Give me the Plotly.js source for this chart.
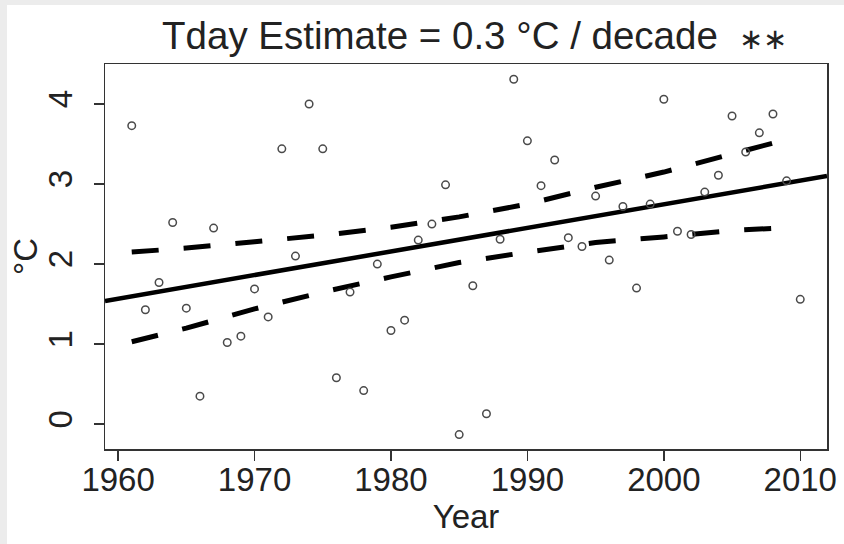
<!DOCTYPE html>
<html>
<head>
<meta charset="utf-8">
<script src="https://cdn.plot.ly/plotly-3.0.1.min.js"></script>
<style>
  html, body { margin: 0; padding: 0; background: #ececec; width: 844px; height: 544px; overflow: hidden; }
  #plot { position: absolute; left: 7px; top: 5px; width: 837px; height: 539px; background: #fff; }
</style>
</head>
<body>
<div id="plot"></div>
<script>
// Observed annual values (°C)
const years = [1961,1962,1963,1964,1965,1966,1967,1968,1969,1970,
               1971,1972,1973,1974,1975,1976,1977,1978,1979,1980,
               1981,1982,1983,1984,1985,1986,1987,1988,1989,1990,
               1991,1992,1993,1994,1995,1996,1997,1998,1999,2000,
               2001,2002,2003,2004,2005,2006,2007,2008,2009,2010];
const tday  = [3.73,1.43,1.77,2.52,1.45,0.35,2.45,1.02,1.10,1.69,
               1.34,3.44,2.10,4.00,3.44,0.58,1.65,0.42,2.00,1.17,
               1.30,2.30,2.50,2.99,-0.13,1.73,0.13,2.31,4.31,3.54,
               2.98,3.30,2.33,2.22,2.85,2.05,2.72,1.70,2.75,4.06,
               2.41,2.37,2.90,3.11,3.85,3.40,3.64,3.875,3.04,1.56];

// Trend line (ends at plot edges)
const trendX = [1959.04, 2011.96];
const trendY = [1.54, 3.10];

// Dashed band lines
const bandX = [1961, 1965, 1970, 1975, 1980, 1985, 1990, 1995, 2000, 2005, 2008.4];
const bandUpper = [2.15, 2.20, 2.28, 2.36, 2.46, 2.59, 2.75, 2.96, 3.15, 3.37, 3.53];
const bandLower = [1.03, 1.20, 1.44, 1.65, 1.84, 2.02, 2.15, 2.27, 2.34, 2.42, 2.45];

// Axis ticks
const xTicks = [1960, 1970, 1980, 1990, 2000, 2010];
const yTicks = [0, 1, 2, 3, 4];

const FONT = 'Liberation Sans, Arial, Helvetica, sans-serif';
const AX = '#333';

const traces = [
  { x: trendX, y: trendY, mode: 'lines', line: { color: '#000', width: 4.5 }, hoverinfo: 'skip' },
  { x: bandX, y: bandUpper, mode: 'lines', line: { color: '#000', width: 5, dash: '27px,25px' }, hoverinfo: 'skip' },
  { x: bandX, y: bandLower, mode: 'lines', line: { color: '#000', width: 5, dash: '27px,25px' }, hoverinfo: 'skip' },
  { x: years, y: tday, mode: 'markers',
    marker: { symbol: 'circle-open', size: 7.5, color: '#4a4a4a', line: { width: 1.5, color: '#4a4a4a' } } }
];

const layout = {
  width: 837, height: 539,
  margin: { l: 98, r: 17, t: 59, b: 95, pad: 0 },
  paper_bgcolor: '#fff',
  plot_bgcolor: '#fff',
  showlegend: false,
  font: { family: FONT, color: '#222', size: 33 },
  title: {
    text: 'Tday Estimate = 0.3 °C / decade&nbsp; <span style="font-size:29px">∗∗</span>',
    font: { family: FONT, size: 38.5, color: '#222' },
    xref: 'paper', x: 0.512, xanchor: 'center',
    yref: 'paper', y: 1, yanchor: 'bottom',
    pad: { b: 15 }
  },
  xaxis: {
    range: [1959.04, 2011.96],
    tickvals: xTicks, ticktext: xTicks.map(String),
    ticks: 'outside', ticklen: 10, tickwidth: 1.5, tickcolor: AX,
    ticklabelstandoff: -9,
    showline: true, mirror: true, linecolor: AX, linewidth: 1.5,
    showgrid: false, zeroline: false,
    tickfont: { family: FONT, size: 33, color: '#222' },
    title: { text: 'Year', font: { family: FONT, size: 33, color: '#222' }, standoff: 0 }
  },
  yaxis: {
    range: [-0.31, 4.5],
    tickvals: yTicks, ticktext: yTicks.map(String),
    tickangle: -90,
    ticks: 'outside', ticklen: 10, tickwidth: 1.5, tickcolor: AX,
    ticklabelstandoff: 8,
    showline: true, mirror: true, linecolor: AX, linewidth: 1.5,
    showgrid: false, zeroline: false,
    tickfont: { family: FONT, size: 33, color: '#222' },
    title: { text: '°C', font: { family: FONT, size: 33, color: '#222' }, standoff: 22 }
  }
};

Plotly.newPlot('plot', traces, layout, { displayModeBar: false, staticPlot: true });
</script>
</body>
</html>
